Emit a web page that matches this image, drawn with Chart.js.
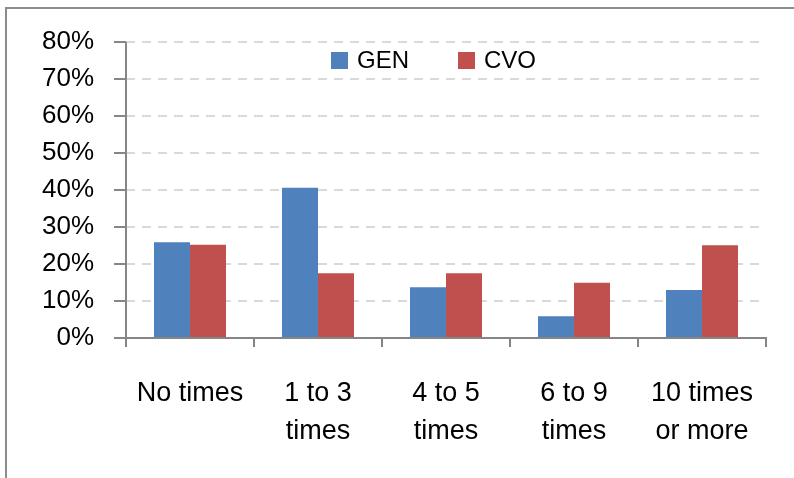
<!DOCTYPE html>
<html>
<head>
<meta charset="utf-8">
<script src="https://cdn.jsdelivr.net/npm/chart.js@4.4.1/dist/chart.umd.min.js"></script>
<style>
  html, body { margin: 0; padding: 0; background: #fff; }
  #wrap { width: 794px; height: 478px; position: relative; }
</style>
</head>
<body>
<div id="wrap"><canvas id="chart"></canvas></div>
<script>
// categories and values (percent)
const categorias = [['No times'], ['1 to 3', 'times'], ['4 to 5', 'times'], ['6 to 9', 'times'], ['10 times', 'or more']];
const serieGEN = [25.9, 40.6, 13.7, 5.9, 13.0];
const serieCVO = [25.2, 17.5, 17.5, 14.9, 25.1];
const nomesSeries = ['GEN', 'CVO'];
const coresSeries = ['#4F81BD', '#C0504D'];

const fonte = "'Liberation Sans', Arial, sans-serif";

// moldura (linha superior e esquerda), eixo y e legenda dentro da area do grafico
const molduraPlugin = {
    id: 'moldura',
    beforeDraw(chart) {
        const ctx = chart.ctx;
        ctx.save();
        ctx.fillStyle = '#ffffff';
        ctx.fillRect(0, 0, chart.width, chart.height);
        ctx.strokeStyle = '#8c8c8c';
        ctx.lineWidth = 2;
        ctx.beginPath();
        ctx.moveTo(6, chart.height);
        ctx.lineTo(6, 8);
        ctx.lineTo(chart.width, 8);
        ctx.stroke();
        ctx.restore();
    },
    afterDatasetsDraw(chart) {
        const ctx = chart.ctx;
        const area = chart.chartArea;
        ctx.save();
        // linha do eixo y, continua
        ctx.strokeStyle = '#868686';
        ctx.lineWidth = 2;
        ctx.setLineDash([]);
        ctx.beginPath();
        ctx.moveTo(area.left, area.top);
        ctx.lineTo(area.left, area.bottom);
        ctx.stroke();

        const posicoes = [331, 458];
        ctx.font = '24px ' + fonte;
        ctx.textBaseline = 'middle';
        chart.data.datasets.forEach((ds, i) => {
            const x = posicoes[i];
            ctx.fillStyle = ds.backgroundColor;
            ctx.fillRect(x, 52, 17, 17);
            ctx.fillStyle = '#000';
            ctx.fillText(ds.label, x + 26, 61);
        });
        ctx.restore();
    }
};

const ctx = document.getElementById('chart').getContext('2d');
new Chart(ctx, {
    type: 'bar',
    data: {
        labels: categorias,
        datasets: [
            { label: nomesSeries[0], data: serieGEN, backgroundColor: coresSeries[0], borderWidth: 0 },
            { label: nomesSeries[1], data: serieCVO, backgroundColor: coresSeries[1], borderWidth: 0 }
        ]
    },
    options: {
        responsive: true,
        maintainAspectRatio: false,
        animation: false,
        devicePixelRatio: 1,
        layout: { padding: { top: 42, right: 28, left: 0, bottom: 0 } },
        datasets: { bar: { categoryPercentage: 0.5625, barPercentage: 1.0 } },
        plugins: {
            legend: { display: false },
            tooltip: { enabled: false }
        },
        scales: {
            x: {
                afterFit(scale) { scale.height = 140; },
                grid: {
                    display: true,
                    drawOnChartArea: false,
                    offset: true,
                    tickLength: 9,
                    color: '#868686',
                    lineWidth: 2
                },
                border: { display: true, color: '#868686', width: 2 },
                ticks: {
                    color: '#000',
                    padding: 28,
                    maxRotation: 0,
                    autoSkip: false,
                    font: { family: fonte, size: 27, lineHeight: 1.4 }
                }
            },
            y: {
                min: 0,
                max: 80,
                afterFit(scale) { scale.width = 126; },
                grid: {
                    color: '#d9d9d9',
                    lineWidth: 2,
                    tickLength: 12,
                    tickColor: '#868686',
                    tickBorderDash: [],
                    tickWidth: 2
                },
                border: { display: false, dash: [9, 7] },
                ticks: {
                    stepSize: 10,
                    color: '#000',
                    padding: 20,
                    font: { family: fonte, size: 26 },
                    callback: (v) => v + '%'
                }
            }
        }
    },
    plugins: [molduraPlugin]
});
</script>
</body>
</html>
